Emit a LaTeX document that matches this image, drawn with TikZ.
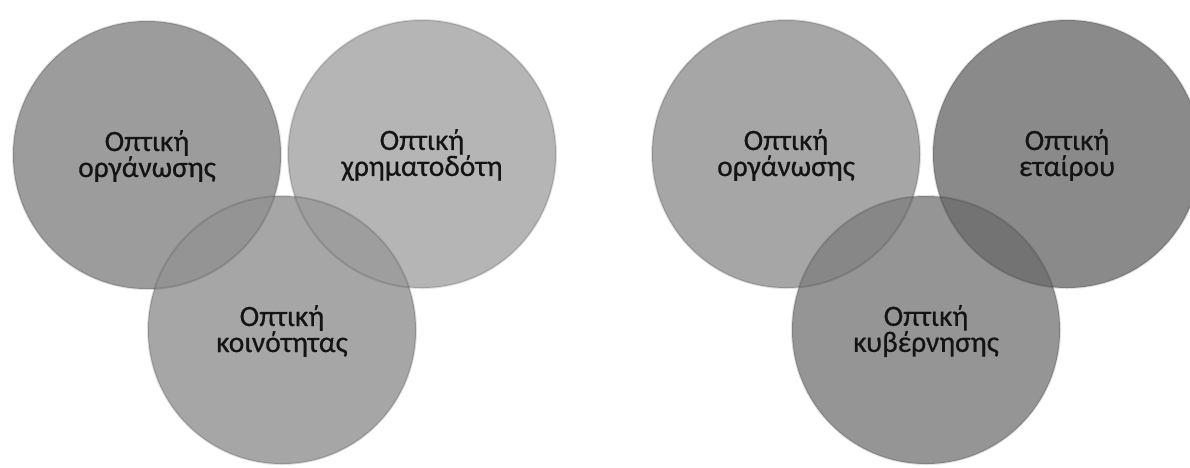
\documentclass[tikz,border=0pt]{standalone}
\usepackage{fontspec}
\setmainfont{Carlito}[FakeBold=0.6]
\tikzset{
  lbl/.style={align=center, font=\fontsize{29.5}{26}\selectfont, text=black!92, inner sep=0pt},
  rim/.style={draw=black, draw opacity=0.12, line width=2pt},
}
\definecolor{gA}{gray}{0.61}
\definecolor{gB}{gray}{0.71}
\definecolor{gC}{gray}{0.65}
\definecolor{gAC}{gray}{0.58}
\definecolor{gBC}{gray}{0.62}
\definecolor{hA}{gray}{0.65}
\definecolor{hB}{gray}{0.54}
\definecolor{hC}{gray}{0.585}
\definecolor{hAC}{gray}{0.53}
\definecolor{hBC}{gray}{0.45}
\newcommand{\Rad}{134}
\begin{document}
\begin{tikzpicture}[x=1pt,y=-1pt]
\useasboundingbox (0,0) rectangle (1190,467);
\fill[white] (0,0) rectangle (1190,467);
% ---- left group ----
\coordinate (a1) at (147,155);
\coordinate (b1) at (422,154);
\coordinate (c1) at (282,330);
\fill[gA] (a1) circle (\Rad);
\fill[gB] (b1) circle (\Rad);
\fill[gC] (c1) circle (\Rad);
\begin{scope}\clip (a1) circle (\Rad); \fill[gAC] (c1) circle (\Rad); \end{scope}
\begin{scope}\clip (b1) circle (\Rad); \fill[gBC] (c1) circle (\Rad); \end{scope}
\draw[rim] (a1) circle (\Rad);
\draw[rim] (b1) circle (\Rad);
\draw[rim] (c1) circle (\Rad);
% ---- right group ----
\coordinate (a2) at (786,154);
\coordinate (b2) at (1067,154);
\coordinate (c2) at (926,330);
\fill[hA] (a2) circle (\Rad);
\fill[hB] (b2) circle (\Rad);
\fill[hC] (c2) circle (\Rad);
\begin{scope}\clip (a2) circle (\Rad); \fill[hAC] (c2) circle (\Rad); \end{scope}
\begin{scope}\clip (b2) circle (\Rad); \fill[hBC] (c2) circle (\Rad); \end{scope}
\draw[rim] (a2) circle (\Rad);
\draw[rim] (b2) circle (\Rad);
\draw[rim] (c2) circle (\Rad);
% ---- labels ----
\node[lbl] (ta1) at ([yshift=-1]a1) {Οπτική\\οργάνωσης};
\node[lbl] (tb1) at ([yshift=-1]b1) {Οπτική\\χρηματοδότη};
\node[lbl] (tc1) at ([yshift=-1]c1) {Οπτική\\κοινότητας};
\node[lbl] (ta2) at ([yshift=-1]a2) {Οπτική\\οργάνωσης};
\node[lbl] (tb2) at ([yshift=-1]b2) {Οπτική\\εταίρου};
\node[lbl] (tc2) at ([yshift=-1]c2) {Οπτική\\κυβέρνησης};
\end{tikzpicture}
\end{document}
